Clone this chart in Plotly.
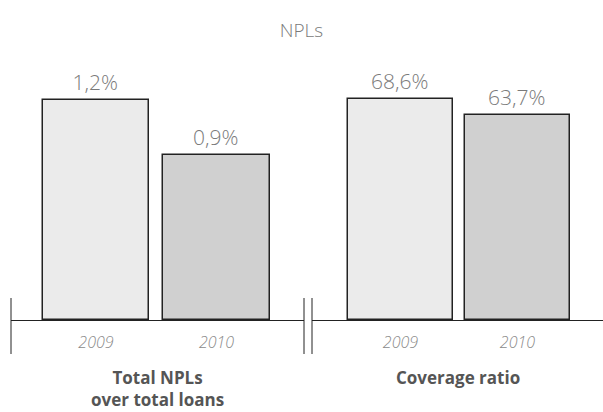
import plotly.graph_objects as go

# Data
years = ["2009", "2010"]
npl_ratio = [1.2, 0.9]          # Total NPLs over total loans, %
coverage_ratio = [68.6, 63.7]   # Coverage ratio, %
panel_titles = ["Total NPLs<br>over total loans", "Coverage ratio"]
bar_colors = ["#ebebeb", "#d0d0d0"]

W, H = 603, 412
FONT = "Open Sans"
TEXT_GREY = "#7a7a7a"

def px(x):
    return x / W

def py(y):
    return 1 - y / H

fig = go.Figure()

for vals, xa, ya, width in [(npl_ratio, "x", "y", 0.88), (coverage_ratio, "x2", "y2", 0.9)]:
    fig.add_trace(go.Bar(
        x=years, y=vals, xaxis=xa, yaxis=ya, width=width,
        marker=dict(color=bar_colors, line=dict(color="#222222", width=1.5)),
        texttemplate="%{y:.1f}%", textposition="outside", cliponaxis=False,
        constraintext="none",
        textfont=dict(family=FONT, size=21, color=TEXT_GREY, weight=300),
        hoverinfo="skip", showlegend=False,
    ))

base = py(320)
top = py(60)

xaxis_common = dict(
    type="category", showline=True, linecolor="#222222", linewidth=1,
    showgrid=False, zeroline=False, ticks="outside", ticklen=8,
    tickcolor="rgba(0,0,0,0)", fixedrange=True,
    tickfont=dict(family=FONT, size=16, color="#8a8a8a", style="italic", weight=300),
)
yaxis_common = dict(visible=False, showgrid=False, zeroline=False, fixedrange=True,
                    domain=[base, top])

fig.update_layout(
    width=W, height=H,
    margin=dict(l=0, r=0, t=0, b=0),
    paper_bgcolor="white", plot_bgcolor="white",
    separators=",.",
    bargap=0,
    title=dict(text="NPLs", x=0.5, xanchor="center", y=py(30), yanchor="middle",
               font=dict(family=FONT, size=19, color=TEXT_GREY, weight=300)),
    xaxis=dict(xaxis_common, domain=[px(11), px(304)], range=[-0.705, 1.726], anchor="y"),
    xaxis2=dict(xaxis_common, domain=[px(312), 1], range=[-0.756, 1.731], anchor="y2"),
    yaxis=dict(yaxis_common, range=[0, 1.418], anchor="x"),
    yaxis2=dict(yaxis_common, range=[0, 80.7], anchor="x2"),
)

# Axis-break ticks
for xpos in [11, 304, 312]:
    fig.add_shape(type="line", xref="paper", yref="paper",
                  x0=px(xpos), x1=px(xpos), y0=py(298), y1=py(354),
                  line=dict(color="#222222", width=1))

# Panel captions
for title, (d0, d1) in zip(panel_titles, [(11, 304), (312, 603)]):
    fig.add_annotation(text="<b>" + title + "</b>", xref="paper", yref="paper",
                       x=px((d0 + d1) / 2), y=py(364), xanchor="center", yanchor="top",
                       showarrow=False,
                       font=dict(family=FONT, size=17, color="#555555"))

fig.write_html("out.html")
